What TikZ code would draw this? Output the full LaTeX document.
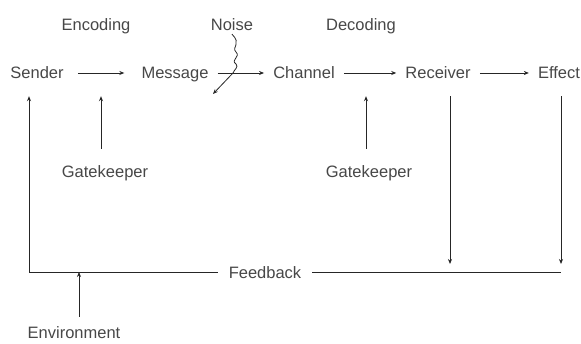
\documentclass[tikz,border=0pt]{standalone}
\usepackage{fontspec}
\setmainfont{Liberation Sans}
\usetikzlibrary{arrows.meta}

\tikzset{
  lbl/.style={inner xsep=9pt, inner ysep=0pt, text height=12pt, text depth=0pt,
    minimum height=46pt, text=black!72, font=\fontsize{16.5}{18}\selectfont},
  toplbl/.style={lbl, minimum height=0pt, inner ysep=3pt},
  wire/.style={line width=0.8pt, draw=black!85}
}

\begin{document}
\begin{tikzpicture}[x=1pt, y=-1pt, >={Stealth[length=5pt,width=4pt]}]
    \useasboundingbox (0,0) rectangle (581,344);

    % Rótulos de cima
    \node[toplbl] (enc) at (96,25) {Encoding};
    \node[toplbl] (noise) at (232,25) {Noise};
    \node[toplbl] (dec) at (361,25) {Decoding};

    % Linha principal
    \node[lbl] (sender) at (37,73) {Sender};
    \node[lbl] (message) at (175,73) {Message};
    \node[lbl] (channel) at (304,73) {Channel};
    \node[lbl] (receiver) at (438,73) {Receiver};
    \node[lbl] (effect) at (559,73) {Effect};

    % Rótulos de baixo
    \node[lbl] (gk1) at (105,172) {Gatekeeper};
    \node[lbl] (gk2) at (369,172) {Gatekeeper};
    \node[lbl, inner xsep=11pt] (feedback) at (265,273) {Feedback};
    \node[toplbl, inner ysep=0pt] (env) at (74,333) {Environment};

    % Pontos da linha de feedback
    \coordinate (fbL) at (29,272);
    \coordinate (fbR) at (561,272);
    \coordinate (fbM) at (450,272);
    \coordinate (noiseend) at (213,94);

    % Setas da linha principal
    \draw[wire, ->, shorten <=5pt, shorten >=8pt] (sender) -- (message);
    \draw[wire, ->] (message) -- (channel);
    \draw[wire, ->] (channel) -- (receiver);
    \draw[wire, ->] (receiver) -- (effect);

    % Ruído
    \draw[wire, ->] (noise.south) .. controls (242,44) and (231,47) .. (236,52)
      .. controls (241,57) and (230,60) .. (236,64)
      .. controls (239,67) and (234,70) .. (233,73) -- (noiseend);

    % Gatekeepers
    \draw[wire, ->] ([xshift=-4pt]gk1.north) -- ([xshift=-4pt]gk1.north |- sender.south);
    \draw[wire, ->] ([xshift=-3pt]gk2.north) -- ([xshift=-3pt]gk2.north |- channel.south);

    % Feedback
    \draw[wire, ->, shorten >=8pt] (receiver.south -| fbM) -- (fbM);
    \draw[wire, ->, shorten >=8pt] (effect.south -| fbR) -- (fbR);
    \draw[wire] (feedback.east |- fbR) -- (fbR);
    \draw[wire, ->] (feedback.west |- fbL) -- (fbL) -- (fbL |- sender.south);
    \draw[wire, ->, shorten <=10pt] ([xshift=5pt]env.north) -- ([xshift=5pt]env.north |- fbL);
\end{tikzpicture}
\end{document}
